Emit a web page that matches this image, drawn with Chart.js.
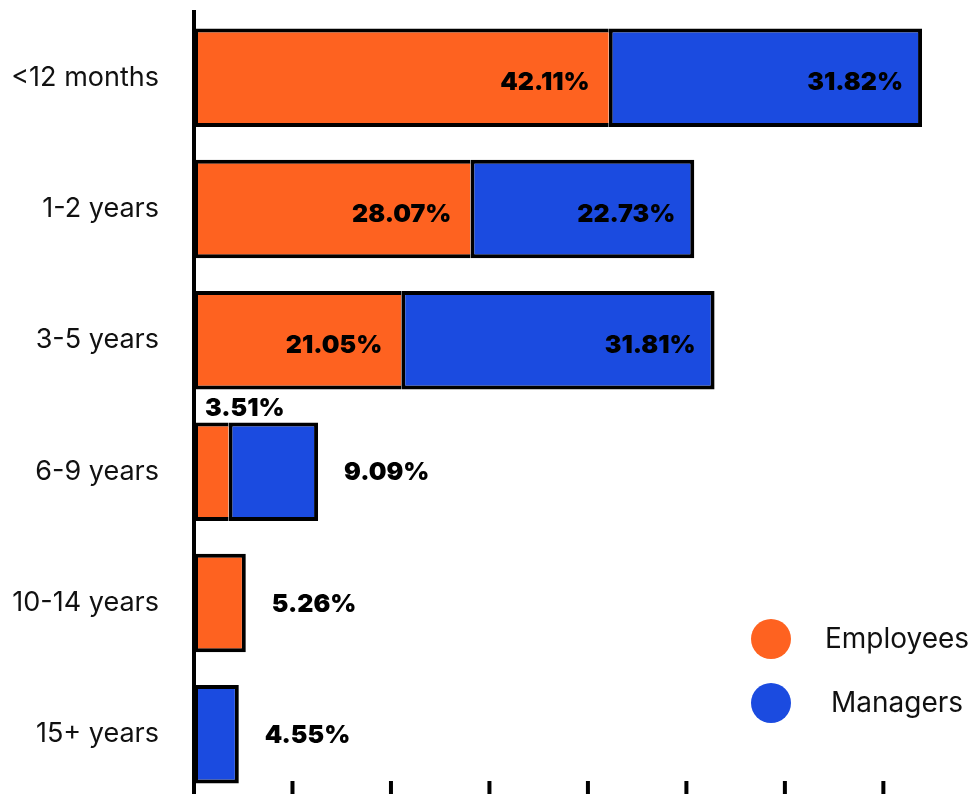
<!DOCTYPE html>
<html>
<head>
<meta charset="utf-8">
<script src="https://cdn.jsdelivr.net/npm/chart.js@4.4.1/dist/chart.umd.min.js"></script>
<style>
  html, body { margin: 0; padding: 0; background: #ffffff; overflow: hidden; }
  #wrap { position: relative; width: 972px; height: 800px; }
</style>
</head>
<body>
<div id="wrap"><canvas id="c"></canvas></div>
<script>
const categories = ["<12 months", "1-2 years", "3-5 years", "6-9 years", "10-14 years", "15+ years"];
const employees = [42.11, 28.07, 21.05, 3.51, 5.26, null];
const managers = [31.82, 22.73, 31.81, 9.09, null, 4.55];
const seriesNames = ["Employees", "Managers"];
const seriesColors = ["#FE6220", "#1B4BE0"];
const xTicks = [10, 20, 30, 40, 50, 60, 70];

const LABEL_FONT = "900 25px Inter, 'DejaVu Sans', sans-serif";
const LEGEND_FONT = "400 28px Inter, 'DejaVu Sans', sans-serif";

const labelPlugin = {
  id: 'valueLabels',
  afterDatasetsDraw(chart) {
    const ctx = chart.ctx;
    ctx.save();
    ctx.font = LABEL_FONT;
    ctx.fillStyle = '#000';
    chart.data.datasets.forEach((ds, di) => {
      const meta = chart.getDatasetMeta(di);
      meta.data.forEach((bar, i) => {
        const v = ds.data[i];
        if (v == null) return;
        const txt = v.toFixed(2) + '%';
        const props = bar.getProps(['x', 'y', 'base', 'height'], true);
        const w = props.x - props.base;
        const later = chart.data.datasets.slice(di + 1).some(d => d.data[i] != null);
        if (w >= 90) {
          ctx.textAlign = 'right';
          ctx.textBaseline = 'middle';
          ctx.fillText(txt, props.x - 19, props.y + 5);
        } else if (!later) {
          ctx.textAlign = 'left';
          ctx.textBaseline = 'middle';
          ctx.fillText(txt, props.x + 26, props.y + 1);
        } else {
          ctx.textAlign = 'left';
          ctx.textBaseline = 'bottom';
          ctx.fillText(txt, props.base + 11, props.y - props.height / 2 - 1);
        }
      });
    });
    ctx.restore();
  }
};

const axisTicksPlugin = {
  id: 'axisTicks',
  afterDraw(chart) {
    const ctx = chart.ctx;
    const xs = chart.scales.x;
    const bottom = chart.chartArea.bottom;
    ctx.save();
    ctx.strokeStyle = '#000';
    ctx.lineWidth = 4;
    xTicks.forEach(t => {
      const px = xs.getPixelForValue(t);
      ctx.beginPath();
      ctx.moveTo(px, bottom - 19);
      ctx.lineTo(px, bottom);
      ctx.stroke();
    });
    ctx.restore();
  }
};

const legendPlugin = {
  id: 'customLegend',
  afterDraw(chart) {
    const ctx = chart.ctx;
    ctx.save();
    chart.data.datasets.forEach((ds, i) => {
      const cy = 639 + i * 64;
      ctx.beginPath();
      ctx.fillStyle = ds.backgroundColor;
      ctx.arc(771, cy, 20, 0, Math.PI * 2);
      ctx.fill();
      ctx.fillStyle = '#111';
      ctx.font = LEGEND_FONT;
      ctx.textAlign = 'center';
      ctx.textBaseline = 'middle';
      ctx.fillText(ds.label, 897, cy + 1);
    });
    ctx.restore();
  }
};

function skipFor(di) {
  return (c) => {
    const i = c.dataIndex;
    if (di === 0 && managers[i] != null) return 'right';
    return false;
  };
}

new Chart(document.getElementById('c'), {
  type: 'bar',
  data: {
    labels: categories,
    datasets: [
      { label: seriesNames[0], data: employees, backgroundColor: seriesColors[0], borderColor: '#000', borderWidth: 4, borderSkipped: skipFor(0) },
      { label: seriesNames[1], data: managers, backgroundColor: seriesColors[1], borderColor: '#000', borderWidth: 4, borderSkipped: skipFor(1) }
    ]
  },
  options: {
    indexAxis: 'y',
    responsive: true,
    maintainAspectRatio: false,
    animation: false,
    layout: { padding: { top: 12, right: 0, bottom: 0, left: 0 } },
    barPercentage: 0.75,
    categoryPercentage: 1,
    plugins: { legend: { display: false }, tooltip: { enabled: false } },
    scales: {
      x: {
        stacked: true,
        min: 0,
        max: 79,
        display: false
      },
      y: {
        stacked: true,
        grid: { display: false },
        border: { display: true, color: '#000', width: 4 },
        ticks: {
          color: '#111',
          padding: 27,
          font: { family: "Inter, 'DejaVu Sans', sans-serif", size: 27, weight: '400' }
        },
        afterFit(s) {
          s.paddingTop = 0;
          s.paddingBottom = 0;
          s.width = 194;
        }
      }
    }
  },
  plugins: [labelPlugin, axisTicksPlugin, legendPlugin]
});
</script>
</body>
</html>
